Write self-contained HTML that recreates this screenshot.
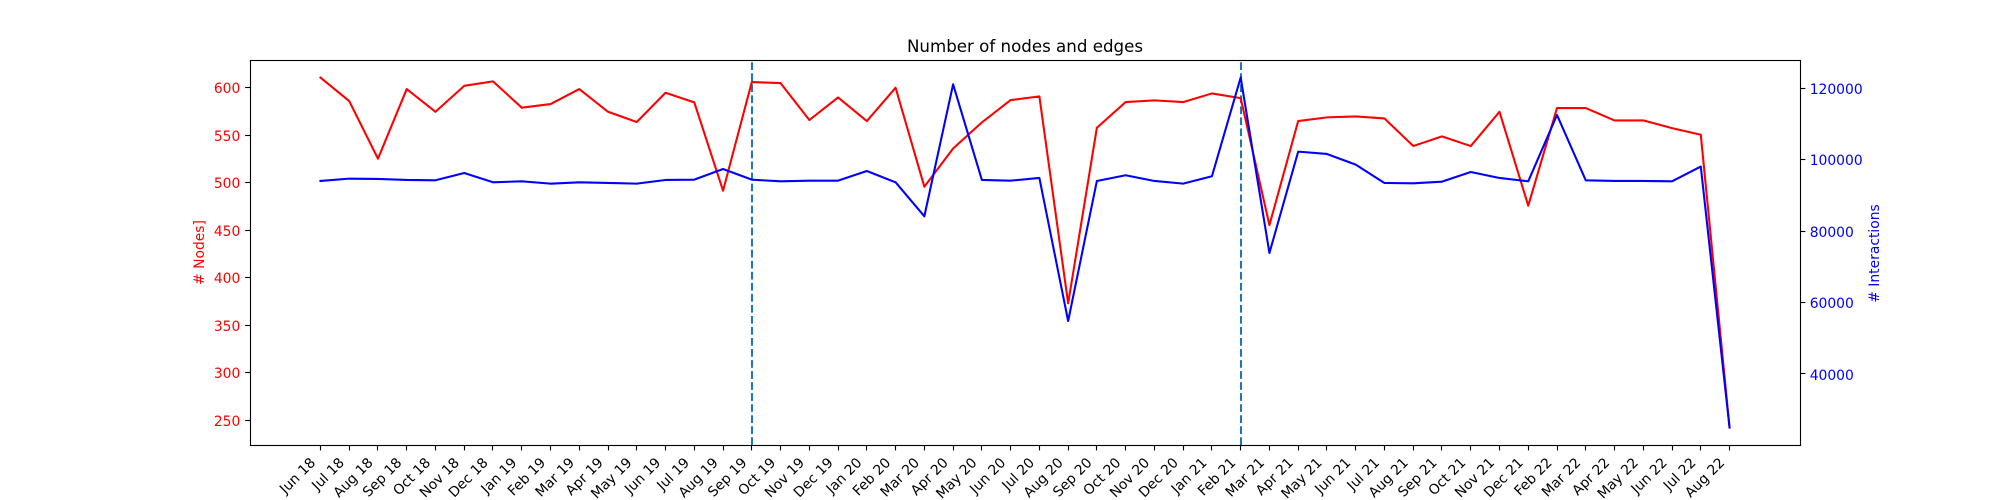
<!DOCTYPE html>
<html lang="en">
<head>
<meta charset="utf-8">
<title>Number of nodes and edges</title>
<style>
  html, body { margin: 0; padding: 0; background: #fff; }
  #chart { display: block; width: 2000px; height: 500px; background: #fff; }
  text { font-family: "DejaVu Sans", "Liberation Sans", sans-serif; }
</style>
</head>
<body>
<svg id="chart" xmlns="http://www.w3.org/2000/svg" width="2000" height="500" viewBox="0 0 2000 500"></svg>
<script>
const months = ["Jun 18","Jul 18","Aug 18","Sep 18","Oct 18","Nov 18","Dec 18","Jan 19","Feb 19","Mar 19","Apr 19","May 19","Jun 19","Jul 19","Aug 19","Sep 19","Oct 19","Nov 19","Dec 19","Jan 20","Feb 20","Mar 20","Apr 20","May 20","Jun 20","Jul 20","Aug 20","Sep 20","Oct 20","Nov 20","Dec 20","Jan 21","Feb 21","Mar 21","Apr 21","May 21","Jun 21","Jul 21","Aug 21","Sep 21","Oct 21","Nov 21","Dec 21","Feb 22","Mar 22","Apr 22","May 22","Jun 22","Jul 22","Aug 22"];
const nodes = [610.7,586,525.3,598.6,574.7,602,606.7,579,582.8,598.6,574.7,563.9,594.7,584.6,491.6,606,604.9,566,589.8,564.9,600,495.8,536,563.5,587,590.9,373,557.9,584.9,586.7,584.9,594,589.1,455.4,564.9,568.8,569.8,567.7,538.6,548.8,538.6,574.7,475.8,578.6,578.6,565.6,565.6,557.5,550.5,242.3];
const interactions = [94050,94700,94610,94330,94240,96290,93680,93960,93300,93680,93490,93300,94330,94420,97410,94420,93960,94140,94140,96850,93680,84160,121120,94330,94140,94890,54840,94050,95640,94050,93300,95360,123024,73890,102270,101610,98630,93490,93400,93860,96570,94890,93960,112530,94240,94050,94050,93960,98070,25012];
const nodeTicks = [250,300,350,400,450,500,550,600];
const interactionTicks = [40000,60000,80000,100000,120000];
const markerMonths = ["Sep 19","Feb 21"];

const NS = "http://www.w3.org/2000/svg";
const svg = document.getElementById("chart");
const plot = { left: 250, right: 1800, top: 60, bottom: 445 };
const nodesDomain = [223.9, 629.2];
const interactionsDomain = [20112, 127925];

function xScale(i) {
  const span = plot.right - plot.left;
  const inner = span / 1.1;
  return plot.left + (span - inner) / 2 + i * inner / (months.length - 1);
}
function yNodes(v) {
  return plot.bottom - (v - nodesDomain[0]) / (nodesDomain[1] - nodesDomain[0]) * (plot.bottom - plot.top);
}
function yInteractions(v) {
  return plot.bottom - (v - interactionsDomain[0]) / (interactionsDomain[1] - interactionsDomain[0]) * (plot.bottom - plot.top);
}
function snap(p) { return Math.floor(p) + 0.5; }
function make(tag, attrs, text) {
  const el = document.createElementNS(NS, tag);
  for (const k in attrs) el.setAttribute(k, attrs[k]);
  if (text !== undefined) el.textContent = text;
  svg.appendChild(el);
  return el;
}
function slug(s) { return s.toLowerCase().replace(/\s+/g, "-"); }

// marker lines (behind the series); dashes start at the bottom of the plot
markerMonths.forEach(function (m) {
  const x = Math.round(xScale(months.indexOf(m)));
  const line = make("line", { x1: x, x2: x, y1: plot.bottom, y2: plot.top, stroke: "#1f77b4", "stroke-width": 2.08, "stroke-dasharray": "7.7 3.33" });
  
  
});

// series
function linePath(values, yFn) {
  return values.map(function (v, i) {
    return (i ? "L" : "M") + xScale(i).toFixed(2) + " " + yFn(v).toFixed(2);
  }).join(" ");
}
const nodesLine = make("path", { d: linePath(nodes, yNodes), fill: "none", stroke: "#ff0000", "stroke-width": 2.08, "stroke-linejoin": "round", "stroke-linecap": "square" });


const interactionsLine = make("path", { d: linePath(interactions, yInteractions), fill: "none", stroke: "#0000ff", "stroke-width": 2.08, "stroke-linejoin": "round", "stroke-linecap": "square" });



// frame
const frame = make("rect", { x: plot.left + 0.5, y: plot.top + 0.5, width: plot.right - plot.left, height: plot.bottom - plot.top, fill: "none", stroke: "#000", "stroke-width": 1.11 });



// x axis
months.forEach(function (m, i) {
  const x = xScale(i);
  const sx = snap(x);
  const tick = make("line", { x1: sx, x2: sx, y1: plot.bottom, y2: plot.bottom + 5.4, stroke: "#000", "stroke-width": 1.11 });
  
  
  const ax = x - 4.2, ay = 463.5;
  const label = make("text", { x: ax, y: ay, "text-anchor": "end", "font-size": 13.89, fill: "#000", transform: "rotate(-45 " + ax.toFixed(2) + " " + ay + ")" }, m);
  
  
});

// left y axis
nodeTicks.forEach(function (v) {
  const y = yNodes(v);
  const sy = snap(y);
  const tick = make("line", { x1: plot.left - 4.86, x2: plot.left, y1: sy, y2: sy, stroke: "#000", "stroke-width": 1.11 });
  
  
  const label = make("text", { x: plot.left - 9.7, y: Math.round(y + 5.4), "text-anchor": "end", "font-size": 13.89, fill: "#ff0000" }, String(v));
  
  
});

// right y axis
interactionTicks.forEach(function (v) {
  const y = yInteractions(v);
  const sy = snap(y);
  const tick = make("line", { x1: plot.right, x2: plot.right + 5.4, y1: sy, y2: sy, stroke: "#000", "stroke-width": 1.11 });
  
  
  const label = make("text", { x: plot.right + 9.7, y: Math.round(y + 5.6), "text-anchor": "start", "font-size": 13.89, fill: "#0000ff" }, String(v));
  
  
});

// titles
const title = make("text", { x: 1025, y: 52, "text-anchor": "middle", "font-size": 16.67, fill: "#000" }, "Number of nodes and edges");


const leftTitle = make("text", { x: 0, y: 0, "text-anchor": "middle", "font-size": 13.89, fill: "#ff0000", transform: "translate(204 252.5) rotate(-90)" }, "# Nodes]");


const rightTitle = make("text", { x: 0, y: 0, "text-anchor": "middle", "font-size": 13.89, fill: "#0000ff", transform: "translate(1879 253.5) rotate(-90)" }, "# Interactions");


</script>
</body>
</html>
